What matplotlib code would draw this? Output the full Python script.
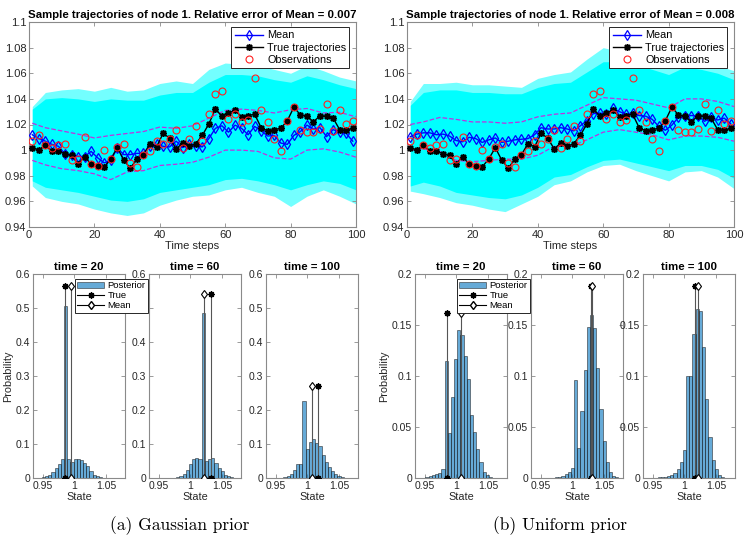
import numpy as np
import matplotlib
matplotlib.use('Agg')
import matplotlib.pyplot as plt

plt.rcParams['font.family'] = ['Liberation Sans', 'DejaVu Sans']
plt.rcParams['axes.unicode_minus'] = False

# ---------------- top panels: trajectories ----------------
t_pts = list(range(1, 100, 2))

true_traj = [1.002, 1.000, 1.004, 0.999, 0.9995, 0.997, 0.996, 0.989, 0.995, 0.989,
             0.988, 0.987, 0.993, 1.002, 0.992, 0.986, 0.993, 0.9965, 1.005, 1.0025,
             1.013, 1.0095, 1.001, 1.0055, 1.003, 1.005, 1.0115, 1.0205, 1.032, 1.0265,
             1.029, 1.031, 1.026, 1.027, 1.028, 1.0175, 1.015, 1.016, 1.017, 1.023,
             1.0335, 1.0275, 1.0265, 1.022, 1.027, 1.0265, 1.025, 1.016, 1.0155, 1.017]

observations = [1.0075, 1.012, 1.004, 1.002, 1.004, 1.005, 0.992, 0.993, 1.0105, 0.9895,
                0.988, 1.000, 0.993, 1.0025, 1.0045, 0.990, 0.9865, 0.996, 0.999, 1.007,
                1.0045, 1.009, 1.0155, 1.002, 1.0085, 1.0185, 1.007, 1.028, 1.0435, 1.0465,
                1.024, 1.028, 1.022, 1.0235, 1.056, 1.0315, 1.022, 1.009, 0.9995, 1.0225,
                1.0335, 1.0155, 1.0145, 1.0145, 1.0165, 1.036, 1.015, 1.0315, 1.0205, 1.0225]

mean_gauss = [1.012, 1.009, 1.007, 1.0045, 1.003, 0.997, 0.996, 0.995, 0.995, 0.999,
              0.994, 0.990, 0.992, 1.0015, 0.9965, 0.9965, 0.9975, 0.9975, 1.003, 1.0045,
              1.003, 1.0025, 1.007, 1.002, 1.0045, 1.0035, 1.0025, 1.009, 1.017, 1.019,
              1.014, 1.0195, 1.017, 1.012, 1.0185, 1.015, 1.011, 1.0115, 1.0055, 1.0045,
              1.0115, 1.0145, 1.0195, 1.0165, 1.0175, 1.0105, 1.016, 1.014, 1.013, 1.007]

mean_unif = [1.0105, 1.0125, 1.0135, 1.0135, 1.012, 1.0125, 1.011, 1.0075, 1.0065, 1.010,
             1.009, 1.006, 1.008, 1.0095, 1.006, 1.007, 1.008, 1.0085, 1.009, 1.012,
             1.0175, 1.0165, 1.0165, 1.0175, 1.0165, 1.015, 1.019, 1.023, 1.0285, 1.029,
             1.028, 1.0325, 1.030, 1.028, 1.029, 1.027, 1.0265, 1.024, 1.0185, 1.0155,
             1.0195, 1.0255, 1.0265, 1.027, 1.0265, 1.0225, 1.0255, 1.0235, 1.025, 1.0205]

# envelope samples (time steps)
env_t = [1, 5, 10, 15, 20, 25, 30, 35, 40, 45, 50, 55, 60, 65, 70, 75, 80, 85, 90, 95, 100]

band_gauss_up = [1.021, 1.0175, 1.015, 1.0125, 1.0095, 1.0115, 1.013, 1.0145, 1.018, 1.017, 1.019,
                 1.025, 1.031, 1.032, 1.031, 1.029, 1.0315, 1.0325, 1.029, 1.0295, 1.026]
band_gauss_lo = [0.992, 0.9885, 0.9855, 0.984, 0.9815, 0.977, 0.983, 0.984, 0.988, 0.989, 0.9905,
                 0.9945, 1.000, 1.000, 0.999, 0.994, 0.993, 1.000, 1.001, 0.9985, 0.9945]
band_unif_up = [1.020, 1.022, 1.0255, 1.024, 1.022, 1.022, 1.021, 1.022, 1.026, 1.028, 1.029,
                1.035, 1.041, 1.040, 1.039, 1.036, 1.033, 1.040, 1.040, 1.038, 1.034]
band_unif_lo = [1.000, 1.001, 0.999, 0.992, 0.991, 0.992, 0.993, 0.993, 0.996, 1.003, 1.003,
                1.008, 1.014, 1.016, 1.014, 1.012, 1.008, 1.011, 1.011, 1.010, 1.007]

# sample-trajectory cloud: dense core and outer spread
cloud_gauss_core_up = [1.032, 1.040, 1.041, 1.040, 1.038, 1.040, 1.039, 1.039, 1.043, 1.045, 1.045,
                       1.053, 1.059, 1.059, 1.058, 1.055, 1.053, 1.058, 1.055, 1.051, 1.048]
cloud_gauss_core_lo = [0.976, 0.971, 0.969, 0.967, 0.964, 0.961, 0.960, 0.962, 0.967, 0.969, 0.971,
                       0.973, 0.977, 0.978, 0.976, 0.973, 0.969, 0.973, 0.976, 0.974, 0.969]
cloud_gauss_out_up = [1.034, 1.045, 1.047, 1.048, 1.046, 1.049, 1.046, 1.047, 1.052, 1.054, 1.052,
                      1.063, 1.068, 1.067, 1.066, 1.063, 1.060, 1.066, 1.062, 1.057, 1.054]
cloud_gauss_out_lo = [0.972, 0.963, 0.960, 0.958, 0.954, 0.951, 0.949, 0.951, 0.957, 0.961, 0.964,
                      0.965, 0.969, 0.971, 0.967, 0.964, 0.956, 0.964, 0.969, 0.964, 0.958]

cloud_unif_core_up = [1.035, 1.045, 1.047, 1.047, 1.045, 1.045, 1.044, 1.044, 1.049, 1.052, 1.053,
                      1.061, 1.069, 1.069, 1.067, 1.063, 1.059, 1.065, 1.063, 1.060, 1.055]
cloud_unif_core_lo = [0.972, 0.975, 0.972, 0.967, 0.965, 0.963, 0.962, 0.965, 0.971, 0.979, 0.981,
                      0.987, 0.992, 0.993, 0.990, 0.987, 0.984, 0.988, 0.988, 0.985, 0.978]
cloud_unif_out_up = [1.038, 1.052, 1.052, 1.053, 1.051, 1.051, 1.050, 1.049, 1.056, 1.059, 1.061,
                     1.071, 1.080, 1.077, 1.075, 1.071, 1.067, 1.073, 1.069, 1.066, 1.062]
cloud_unif_out_lo = [0.968, 0.966, 0.963, 0.959, 0.957, 0.954, 0.952, 0.958, 0.964, 0.973, 0.976,
                     0.983, 0.988, 0.989, 0.984, 0.980, 0.976, 0.983, 0.984, 0.979, 0.970]

rel_err = ['0.007', '0.008']

# ---------------- bottom panels: posterior histograms ----------------
hist_titles = ['time = 20', 'time = 60', 'time = 100']

g20_c = [0.9465, 0.9515, 0.9565, 0.9615, 0.9665, 0.9715, 0.9765, 0.9815, 0.9865, 0.9915, 0.9965,
         1.0015, 1.0065, 1.0115, 1.0165, 1.0215, 1.0265, 1.0315, 1.0365, 1.0415, 1.0465]
g20_h = [0.001, 0.002, 0.005, 0.010, 0.018, 0.030, 0.042, 0.055, 0.505, 0.055, 0.048,
         0.055, 0.056, 0.053, 0.045, 0.035, 0.020, 0.010, 0.005, 0.002, 0.001]
g60_c = [0.9755, 0.9805, 0.9855, 0.9905, 0.9955, 1.0005, 1.0055, 1.0105, 1.0155, 1.0205,
         1.0255, 1.0305, 1.0355, 1.0405, 1.0455, 1.0505, 1.0555, 1.0605, 1.0655]
g60_h = [0.001, 0.002, 0.005, 0.012, 0.025, 0.040, 0.055, 0.060, 0.057, 0.485,
         0.050, 0.055, 0.058, 0.045, 0.030, 0.020, 0.010, 0.005, 0.002]
g100_c = [0.960, 0.965, 0.970, 0.975, 0.980, 0.985, 0.990, 0.995, 1.000, 1.005, 1.010, 1.015,
          1.020, 1.025, 1.030, 1.035, 1.040, 1.045, 1.050, 1.055, 1.060]
g100_h = [0.001, 0.003, 0.006, 0.012, 0.023, 0.042, 0.042, 0.226, 0.085, 0.105, 0.115, 0.103,
          0.093, 0.068, 0.046, 0.031, 0.020, 0.012, 0.006, 0.003, 0.001]

u20_c = [0.954, 0.959, 0.964, 0.969, 0.974, 0.979, 0.984, 0.989, 0.994, 0.999, 1.004,
         1.009, 1.014, 1.019, 1.024, 1.029, 1.034, 1.039, 1.044, 1.049, 1.054]
u20_h = [0.001, 0.002, 0.003, 0.004, 0.005, 0.009, 0.115, 0.044, 0.079, 0.117, 0.145,
         0.140, 0.120, 0.097, 0.062, 0.045, 0.028, 0.016, 0.006, 0.003, 0.001]
u60_c = [0.9754, 0.9804, 0.9854, 0.9904, 0.9954, 1.0004, 1.0054, 1.0104, 1.0154, 1.0204, 1.0254,
         1.0304, 1.0354, 1.0404, 1.0454, 1.0504, 1.0554, 1.0604, 1.0654, 1.0704]
u60_h = [0.0005, 0.001, 0.002, 0.004, 0.006, 0.010, 0.096, 0.029, 0.066, 0.106, 0.148,
         0.160, 0.147, 0.108, 0.068, 0.036, 0.016, 0.006, 0.002, 0.001]
u100_c = [0.9605, 0.9655, 0.9705, 0.9755, 0.9805, 0.9855, 0.9905, 0.9955, 1.0005, 1.0055,
          1.0105, 1.0155, 1.0205, 1.0255, 1.0305, 1.0355, 1.0405, 1.0455, 1.0505, 1.0555, 1.0605]
u100_h = [0.0005, 0.001, 0.001, 0.002, 0.003, 0.005, 0.009, 0.016, 0.027, 0.100,
          0.100, 0.141, 0.166, 0.164, 0.128, 0.077, 0.040, 0.018, 0.009, 0.003, 0.001]

# stem positions (true, mean) and stem heights
g_true_x = [0.986, 1.032, 1.0165]
g_mean_x = [0.995, 1.0213, 1.008]
g_stem_h = [0.565, 0.541, 0.271]
u_true_x = [0.9855, 1.0300, 1.0168]
u_mean_x = [1.0070, 1.0306, 1.0215]
u_stem_h = [0.162, 0.188, 0.188]

frame_col = '#8a8a8a'
text_col = '#262626'
hist_col = (0.0, 0.447, 0.741)
asterisk = (8, 2, 0)
W, H = 748, 540


def px_axes(x0, y0, x1, y1):
    return fig.add_axes([x0 / W, 1 - y1 / H, (x1 - x0) / W, (y1 - y0) / H])


def matlab_style(ax, fs):
    for s in ax.spines.values():
        s.set_color(frame_col)
        s.set_linewidth(0.8)
    ax.tick_params(direction='in', top=True, right=True, length=3, width=0.6,
                   colors=frame_col, labelcolor=text_col, labelsize=fs, pad=2)


def top_panel(ax, mean_vals, up, lo, c_up, c_lo, o_up, o_lo, err):
    ax.fill_between(env_t, o_lo, o_up, color=(0.0, 1.0, 1.0), alpha=0.55, lw=0, zorder=1)
    ax.fill_between(env_t, c_lo, c_up, color=(0.0, 1.0, 1.0), alpha=1.0, lw=0, zorder=1.5)
    ax.plot(env_t, up, color='#c030e0', ls='--', lw=0.9, zorder=2)
    ax.plot(env_t, lo, color='#c030e0', ls='--', lw=0.9, zorder=2)
    ax.plot(t_pts, mean_vals, color='#0000ff', lw=1.0, marker='d', ms=4.8,
            mfc='none', mew=0.9, label='Mean', zorder=4)
    ax.plot(t_pts, true_traj, color='k', lw=1.0, marker=asterisk, ms=5, mew=1.1,
            label='True trajectories', zorder=5)
    ax.plot(t_pts, observations, ls='none', marker='o', ms=5, mfc='none',
            mec='#ff2020', mew=0.8, label='Observations', zorder=6)
    ax.set_xlim(0, 100)
    ax.set_ylim(0.94, 1.1)
    ax.set_xticks([0, 20, 40, 60, 80, 100])
    yt = [0.94, 0.96, 0.98, 1.0, 1.02, 1.04, 1.06, 1.08, 1.1]
    ax.set_yticks(yt, ['0.94', '0.96', '0.98', '1', '1.02', '1.04', '1.06', '1.08', '1.1'])
    matlab_style(ax, 8)
    ax.set_xlabel('Time steps', fontsize=8, color=text_col, labelpad=1)
    ax.set_title('Sample trajectories of node 1. Relative error of Mean = ' + err,
                 fontsize=8.2, fontweight='bold', pad=3)
    leg = ax.legend(loc='upper right', bbox_to_anchor=(0.98, 0.975), fontsize=7.8,
                    fancybox=False, edgecolor='#262626', framealpha=1, borderpad=0.3,
                    labelspacing=0.2, handlelength=2.6, handletextpad=0.4, borderaxespad=0)
    leg.get_frame().set_linewidth(0.7)


fig = plt.figure(figsize=(7.48, 5.40), dpi=100)

ax_tl = px_axes(29, 22, 356, 227)
top_panel(ax_tl, mean_gauss, band_gauss_up, band_gauss_lo, cloud_gauss_core_up,
          cloud_gauss_core_lo, cloud_gauss_out_up, cloud_gauss_out_lo, rel_err[0])
ax_tr = px_axes(407, 22, 734, 227)
top_panel(ax_tr, mean_unif, band_unif_up, band_unif_lo, cloud_unif_core_up,
          cloud_unif_core_lo, cloud_unif_out_up, cloud_unif_out_lo, rel_err[1])


def hist_panel(ax, centers, heights, tx, mx, sh, yticks, ylabels):
    ax.bar(centers, heights, width=0.005, color=hist_col, alpha=0.6,
           edgecolor='#1a1a1a', linewidth=0.6, label='Posterior', zorder=2)
    ax.plot([tx, tx], [0, sh], color='#555555', lw=0.8, zorder=3)
    ax.plot([mx, mx], [0, sh], color='#555555', lw=0.8, zorder=3)
    ax.plot([tx, tx], [0, sh], ls='none', marker=asterisk, ms=4.5, mew=1.0,
            color='k', zorder=4)
    ax.plot([mx, mx], [0, sh], ls='none', marker='d', ms=4.5, mfc='white',
            mec='k', mew=0.8, zorder=4)
    ax.set_xlim(0.935, 1.08)
    ax.set_ylim(0, yticks[-1])
    ax.set_xticks([0.95, 1.0, 1.05], ['0.95', '1', '1.05'])
    ax.set_yticks(yticks, ylabels)
    matlab_style(ax, 7.5)
    ax.set_xlabel('State', fontsize=7.8, color=text_col, labelpad=1)


groups = [
    ([33, 149, 266], [(g20_c, g20_h), (g60_c, g60_h), (g100_c, g100_h)],
     g_true_x, g_mean_x, g_stem_h,
     [0, 0.1, 0.2, 0.3, 0.4, 0.5, 0.6], ['0', '0.1', '0.2', '0.3', '0.4', '0.5', '0.6'],
     '(a) Gaussian prior', 180),
    ([415, 531, 643], [(u20_c, u20_h), (u60_c, u60_h), (u100_c, u100_h)],
     u_true_x, u_mean_x, u_stem_h,
     [0, 0.05, 0.1, 0.15, 0.2], ['0', '0.05', '0.1', '0.15', '0.2'],
     '(b) Uniform prior', 560),
]

for lefts, hists, tx, mx, sh, yt, yl, cap, cap_x in groups:
    for i, (left, (c, h)) in enumerate(zip(lefts, hists)):
        ax = px_axes(left, 274, left + 92, 478)
        hist_panel(ax, c, h, tx[i], mx[i], sh[i], yt, yl)
        ax.set_title(hist_titles[i], fontsize=8.2, fontweight='bold', pad=3)
        if i == 0:
            ax.set_zorder(3)
            ax.set_ylabel('Probability', fontsize=7.8, color=text_col, labelpad=2)
            h_post = ax.patches[0]
            h_true, = ax.plot([], [], color='k', lw=0.8, marker=asterisk, ms=4.5, mew=1.0)
            h_mean, = ax.plot([], [], color='k', lw=0.8, marker='d', ms=4.5,
                              mfc='white', mec='k')
            leg = ax.legend([h_post, h_true, h_mean], ['Posterior', 'True', 'Mean'],
                            loc='upper right', bbox_to_anchor=(1.25, 0.975), fontsize=6.8,
                            fancybox=False, edgecolor='#262626', framealpha=1,
                            borderpad=0.25, labelspacing=0.1, handlelength=2.8,
                            handletextpad=0.4, borderaxespad=0)
            leg.get_frame().set_linewidth(0.7)
    fig.text(cap_x / W, 1 - 526 / H, cap, family='cmr10', fontsize=12.5,
             ha='center', va='center')

fig.savefig('out.png', dpi=100)
